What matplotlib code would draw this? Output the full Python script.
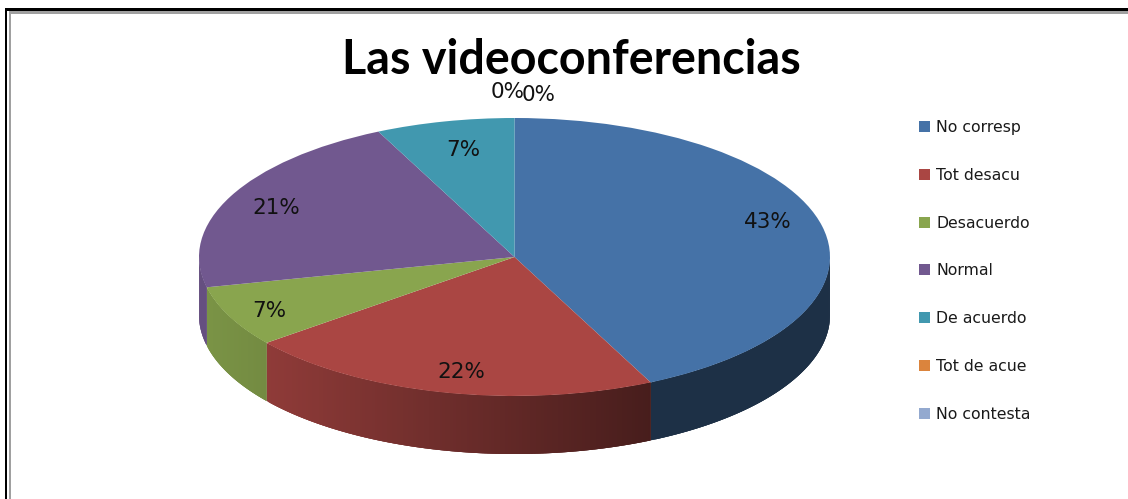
import numpy as np
import matplotlib
matplotlib.use("Agg")
import matplotlib.pyplot as plt
from matplotlib.patches import Rectangle
from matplotlib.collections import PolyCollection
from matplotlib.colors import to_rgb

title = "Las videoconferencias"
categories = ["No corresp", "Tot desacu", "Desacuerdo", "Normal", "De acuerdo", "Tot de acue", "No contesta"]
values = [42.9, 21.5, 7.1, 21.4, 7.1, 0, 0]
colors = ["#4572A7", "#AA4643", "#89A54E", "#71588F", "#4198AF", "#DB843D", "#93A9CF"]
label_px = [(768, 222), (461, 372), (269, 311), (276, 208), (463, 150), (508, 92), (539, 95)]

W, H = 1128, 499
fig = plt.figure(figsize=(W / 100, H / 100), dpi=100, facecolor="white")

def fx(x): return x / W
def fy(y): return 1 - y / H

# pie geometry in pixels
cx, cy, rx, ry, depth = 514.5, 257.0, 315.5, 139.0, 58.0
ax = fig.add_axes([0, 0, 1, 1])
wedges, _ = ax.pie(values, colors=colors, startangle=90, counterclock=False,
                   radius=1, center=(0, 0), wedgeprops=dict(linewidth=0), normalize=True)
for w in wedges:
    w.set_zorder(3)
ax.set_aspect("auto")
ax.set_xlim((0 - cx) / rx, (W - cx) / rx)
ax.set_ylim((cy - H) / ry, cy / ry)
ax.axis("off")

# side wall, shaded along the rim; each facet overlaps the next to avoid seams
d = depth / ry
for w, c in zip(wedges, colors):
    a0, a1 = w.theta1 % 360, w.theta2 % 360
    if w.theta2 - w.theta1 <= 0:
        continue
    if a1 <= a0:
        a1 += 360
    lo, hi = max(a0, 180), min(a1, 360)
    if lo >= hi:
        continue
    edges = np.linspace(lo, hi, max(int(hi - lo) * 2, 2) + 1)
    base = np.array(to_rgb(c))
    polys, fcs = [], []
    for a, b in zip(edges[:-1], edges[1:]):
        t = np.radians(np.linspace(a, hi if b == hi else min(b + 1.0, hi), 6))
        top = np.column_stack([np.cos(t), np.sin(t)])
        bot = np.column_stack([np.cos(t), np.sin(t) - d])[::-1]
        polys.append(np.vstack([top, bot]))
        f = np.interp(np.cos(np.radians((a + b) / 2)), [-1, -0.78, 0.43, 1], [0.9, 0.84, 0.42, 0.42])
        fcs.append(base * f)
    ax.add_collection(PolyCollection(polys, facecolors=fcs, edgecolors="none", linewidths=0, zorder=2))

# percent labels
for v, (x, y) in zip(values, label_px):
    fig.text(fx(x), fy(y), f"{v:.0f}%", ha="center", va="center", fontsize=15.5, color="#111111",
             family="DejaVu Sans", zorder=5)

# title
fig.text(fx(571), fy(60), title, ha="center", va="center", fontsize=33.6, fontweight="bold",
         family="Lato", color="black")

# legend
fig.legend(wedges, categories, loc="upper left", bbox_to_anchor=(fx(919), fy(120)),
           frameon=False, fontsize=11.3, borderpad=0, borderaxespad=0,
           handlelength=0.7, handleheight=0.7, handletextpad=0.4, labelspacing=2.09,
           labelcolor="#1a1a1a")

# frame
for x0, y0, x1, y1, col in [(5, 8, 1128, 11, "black"), (5, 8, 7, 499, "black"),
                            (9, 11, 1128, 14, "#a0a0a0"), (9, 11, 11, 499, "#a0a0a0")]:
    fig.add_artist(Rectangle((fx(x0), fy(y1)), (x1 - x0) / W, (y1 - y0) / H,
                             transform=fig.transFigure, facecolor=col, edgecolor="none"))

fig.savefig("out.png", dpi=100)
